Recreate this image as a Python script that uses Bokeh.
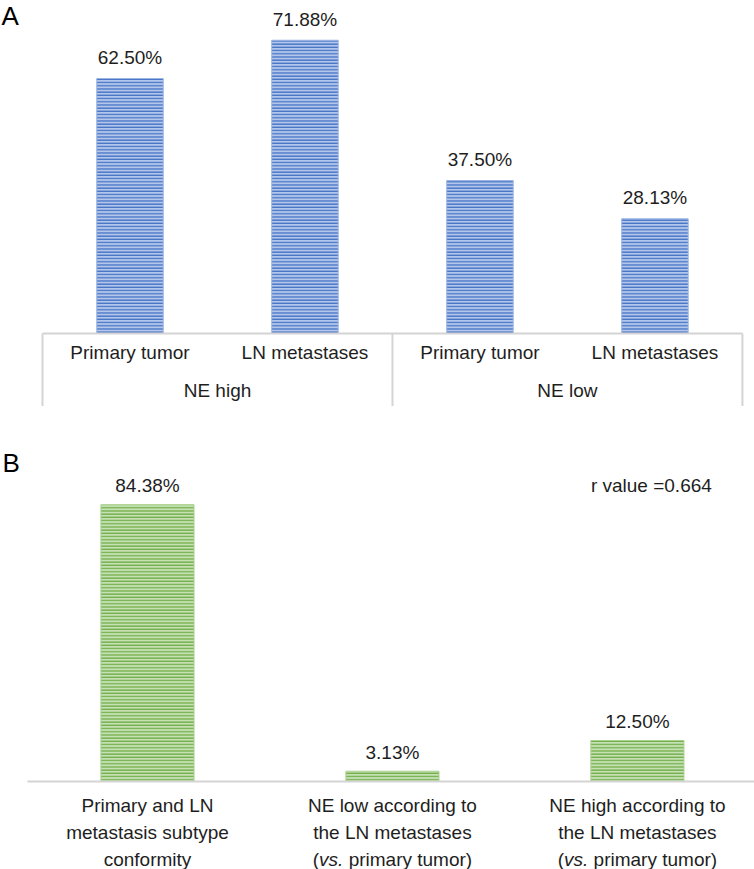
from bokeh.plotting import figure
from bokeh.layouts import column
from bokeh.models import ColumnDataSource, Range1d
from bokeh.core.properties import value
from bokeh.embed import file_html
from bokeh.resources import INLINE

# ---------------- data ----------------
a_groups = ["NE high", "NE low"]
a_subs = ["Primary tumor", "LN metastases", "Primary tumor", "LN metastases"]
a_values = [62.50, 71.88, 37.50, 28.13]
a_labels = ["62.50%", "71.88%", "37.50%", "28.13%"]

b_line1 = ["Primary and LN", "NE low according to", "NE high according to"]
b_line2 = ["metastasis subtype", "the LN metastases", "the LN metastases"]
b_line3 = ["conformity", None, None]
b_values = [84.38, 3.13, 12.50]
b_labels = ["84.38%", "3.13%", "12.50%"]
r_text = "r value =0.664"

FONT = value("Liberation Sans")
TXT = "#1e1e1e"
AXC = "#d4d4d4"

# ---------------- panel A ----------------
xa = [i + 0.5 for i in range(len(a_values))]
src_a = ColumnDataSource(dict(x=xa, top=a_values, lab=a_labels, sub=a_subs))

A_X0, A_X1, A_Y0, A_Y1 = -0.24, 4.069, -17.89, 81.62
pa = figure(width=754, height=406, output_backend="svg", toolbar_location=None,
            x_axis_location=None, y_axis_location=None,
            x_range=Range1d(A_X0, A_X1), y_range=Range1d(A_Y0, A_Y1),
            min_border=0, outline_line_color=None)
pa.xgrid.visible = False
pa.ygrid.visible = False

pa.vbar(x="x", top="top", width=0.38, bottom=0, source=src_a,
        fill_color="#b3c7ec", hatch_pattern="horizontal_line", hatch_color="#4472c4",
        hatch_scale=3.2, hatch_weight=1.4, line_color="#9db5e3", line_width=1)

pa.text(x="x", y="top", text="lab", source=src_a, text_font=FONT, text_font_size="19px",
        text_color=TXT, text_align="center", text_baseline="middle", y_offset=-21)
pa.text(x="x", y=0, text="sub", source=src_a, text_font=FONT, text_font_size="19px",
        text_color=TXT, text_align="center", text_baseline="middle", y_offset=19)

n_sub = len(a_values) // len(a_groups)
gx = [n_sub * (g + 0.5) for g in range(len(a_groups))]
pa.text(x=gx, y=[0] * len(gx), text=a_groups, text_font=FONT, text_font_size="19px",
        text_color=TXT, text_align="center", text_baseline="middle", y_offset=57)

# Excel-like category box
pa.segment(x0=[0], y0=[0], x1=[len(a_values)], y1=[0], line_color=AXC, line_width=2)
bounds = [n_sub * g for g in range(len(a_groups) + 1)]
pa.segment(x0=bounds, y0=[0] * len(bounds), x1=bounds, y1=[A_Y0] * len(bounds),
           line_color=AXC, line_width=2)

pa.text(x=[A_X0], y=[A_Y1], text=["A"], text_font=FONT, text_font_size="26px",
        text_color="#000000", text_align="left", text_baseline="top", x_offset=1, y_offset=0)

# ---------------- panel B ----------------
xb = [i + 0.5 for i in range(len(b_values))]
src_b = ColumnDataSource(dict(x=xb, top=b_values, lab=b_labels, l1=b_line1, l2=b_line2))

B_X0, B_X1, B_Y0, B_Y1 = -0.1, 2.978, -26.83, 114.33
pb = figure(width=754, height=463, output_backend="svg", toolbar_location=None,
            x_axis_location=None, y_axis_location=None,
            x_range=Range1d(B_X0, B_X1), y_range=Range1d(B_Y0, B_Y1),
            min_border=0, outline_line_color=None)
pb.xgrid.visible = False
pb.ygrid.visible = False

pb.vbar(x="x", top="top", width=0.38, bottom=0, source=src_b,
        fill_color="#c6e1b5", hatch_pattern="horizontal_line", hatch_color="#70ad47",
        hatch_scale=3.2, hatch_weight=1.4, line_color="#a9d08e", line_width=1)

pb.segment(x0=[0.01], y0=[0], x1=[len(b_values)], y1=[0], line_color=AXC, line_width=2)

pb.text(x="x", y="top", text="lab", source=src_b, text_font=FONT, text_font_size="19px",
        text_color=TXT, text_align="center", text_baseline="middle", y_offset=-19)

pb.text(x="x", y=0, text="l1", source=src_b, text_font=FONT, text_font_size="19px",
        text_color=TXT, text_align="center", text_baseline="middle", y_offset=24)
pb.text(x="x", y=0, text="l2", source=src_b, text_font=FONT, text_font_size="19px",
        text_color=TXT, text_align="center", text_baseline="middle", y_offset=51)
# third lines
pb.text(x=[xb[0]], y=[0], text=[b_line3[0]], text_font=FONT, text_font_size="19px",
        text_color=TXT, text_align="center", text_baseline="middle", y_offset=78)
for i in (1, 2):
    pb.text(x=[xb[i]], y=[0], text=["("], text_font=FONT, text_font_size="19px",
            text_color=TXT, text_align="left", text_baseline="middle",
            x_offset=-79.7, y_offset=78)
    pb.text(x=[xb[i]], y=[0], text=["vs."], text_font=FONT, text_font_size="19px",
            text_font_style="italic", text_color=TXT, text_align="left",
            text_baseline="middle", x_offset=-73.4, y_offset=78)
    pb.text(x=[xb[i]], y=[0], text=["primary tumor)"], text_font=FONT, text_font_size="19px",
            text_color=TXT, text_align="left", text_baseline="middle",
            x_offset=-43.8, y_offset=78)

pb.text(x=[2.557], y=[90.2], text=[r_text], text_font=FONT, text_font_size="19px",
        text_color=TXT, text_align="center", text_baseline="middle")

pb.text(x=[B_X0], y=[B_Y1], text=["B"], text_font=FONT, text_font_size="26px",
        text_color="#000000", text_align="left", text_baseline="top", x_offset=2, y_offset=41)

layout = column(pa, pb, spacing=0)
open("out.html", "w").write(file_html(layout, INLINE))
